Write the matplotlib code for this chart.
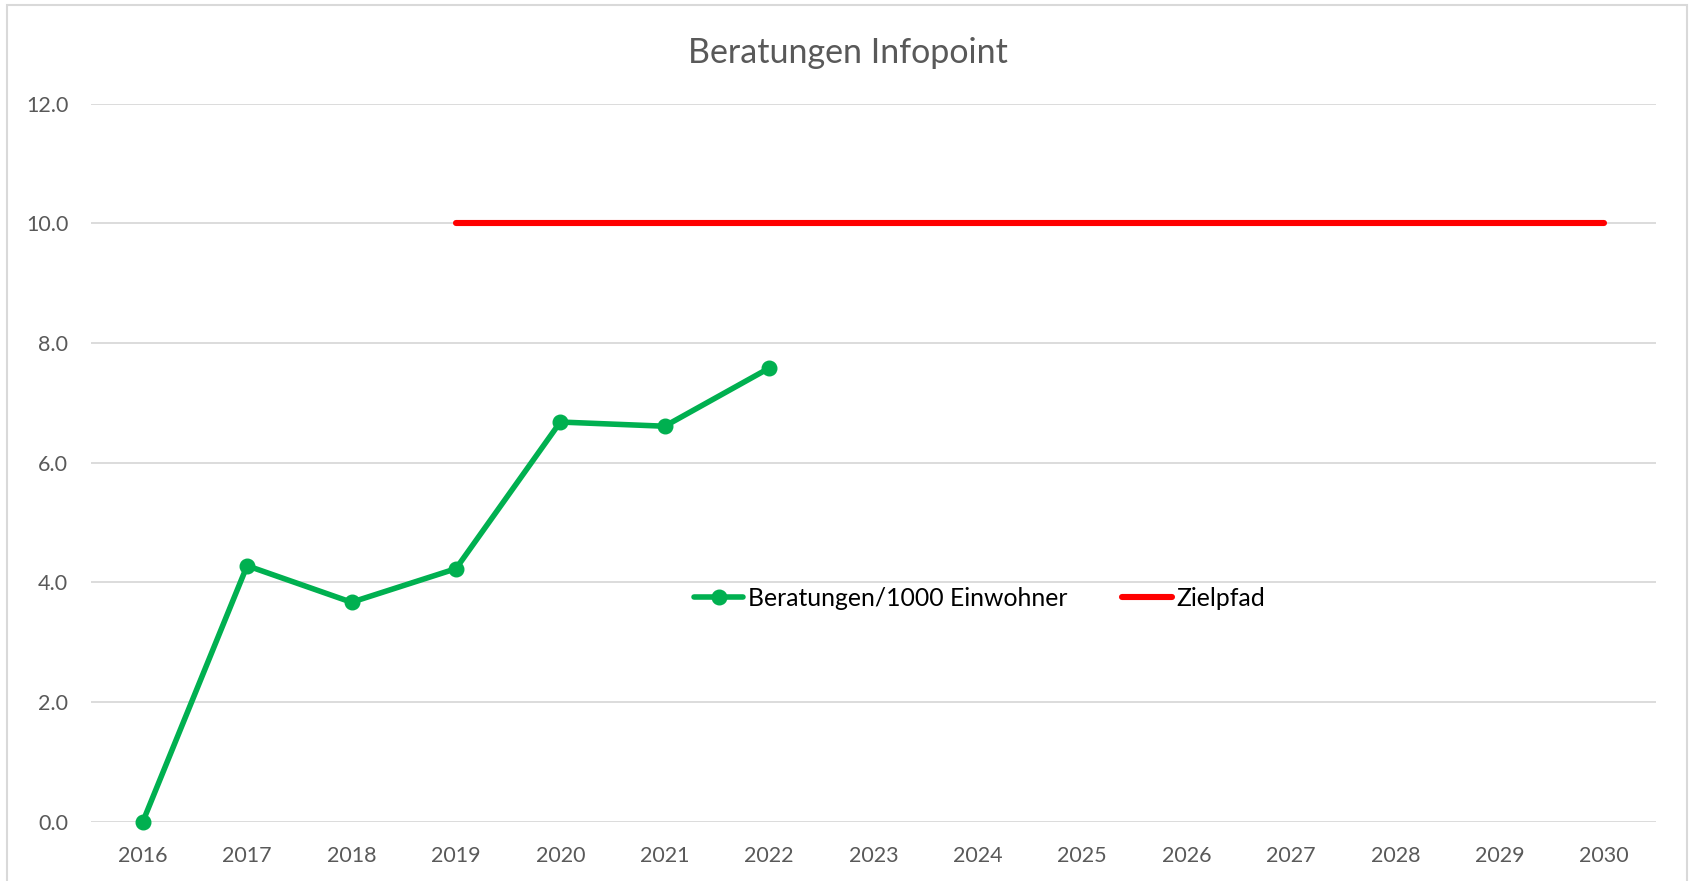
import numpy as np
import matplotlib.pyplot as plt
from matplotlib.patches import Rectangle

plt.rcParams["font.family"] = ["Lato", "DejaVu Sans"]

jahre = [str(j) for j in range(2016, 2031)]
beratungen = [0.0, 4.28, 3.67, 4.23, 6.68, 6.61, 7.58]
zielpfad = [10.0] * 12  # 2019 bis 2030
ziel_start = 3

fig = plt.figure(figsize=(16.92, 8.81), dpi=100)
ax = fig.add_axes([0.0535, 0.067, 0.9255, 0.8155])

# Rahmen des Diagramms
fig.patches.append(Rectangle((0.004, -0.01), 0.993, 1.004, transform=fig.transFigure,
                             fill=False, edgecolor="#d9d9d9", linewidth=1.5))

x = np.arange(len(jahre))
ax.plot(x[:len(beratungen)], beratungen, color="#00b050", linewidth=4.0,
        marker="o", markersize=10.5, label="Beratungen/1000 Einwohner",
        solid_capstyle="round", clip_on=False, zorder=3)
ax.plot(x[ziel_start:ziel_start + len(zielpfad)], zielpfad, color="#ff0000",
        linewidth=4.4, label="Zielpfad", solid_capstyle="round")

ax.set_xlim(-0.5, len(jahre) - 0.5)
ax.set_ylim(0, 12)
ax.set_xticks(x)
ax.set_xticklabels(jahre)
ax.set_yticks(np.arange(0, 13, 2))
ax.set_yticklabels([f"{v:.1f}" for v in np.arange(0, 13, 2)])
ax.tick_params(length=0, labelsize=15.5, labelcolor="#595959")
ax.tick_params(axis="x", pad=17)
ax.tick_params(axis="y", pad=16)
ax.grid(axis="y", color="#d9d9d9", linewidth=1.3)
ax.set_axisbelow(True)
for s in ax.spines.values():
    s.set_visible(False)

fig.text(0.501, 0.940, "Beratungen Infopoint", ha="center", va="center",
         fontsize=24.5, color="#595959")

fig.legend(loc="center", bbox_to_anchor=(0.579, 0.321), ncol=2, frameon=False,
           fontsize=17.8, handlelength=2.0, columnspacing=2.2, handletextpad=0.2)

fig.savefig("out.png", dpi=100)
plt.close(fig)
